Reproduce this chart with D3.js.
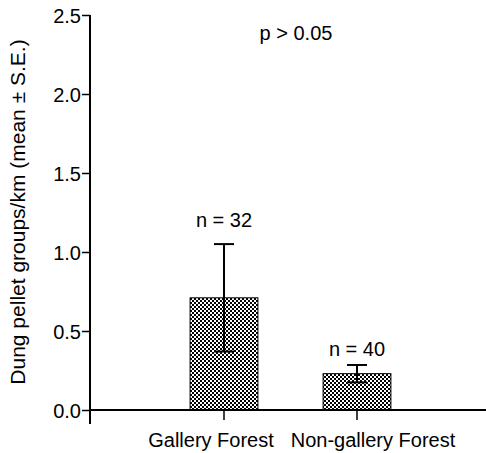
<!DOCTYPE html>
<html>
<head>
<meta charset="utf-8">
<script src="https://cdn.jsdelivr.net/npm/d3@7"></script>
<style>
  html, body { margin: 0; padding: 0; background: #fff; }
  svg { display: block; }
  text { font-family: "Liberation Sans", Arial, sans-serif; fill: #000; }
</style>
</head>
<body>
<svg id="chart" width="486" height="453"></svg>
<script>
// Dung pellet group density by habitat
const categories = ["Gallery Forest", "Non-gallery Forest"];
const means = [0.71, 0.23];
const stdErrors = [0.34, 0.055];
const sampleSizes = [32, 40];
const yTicks = [0, 0.5, 1.0, 1.5, 2.0, 2.5];
const yTitle = "Dung pellet groups/km (mean \u00b1 S.E.)";
const statNote = "p > 0.05";

const svg = d3.select("#chart");
const fontSize = 20;

// checkered fill for the bars
const defs = svg.append("defs");
const pat = defs.append("pattern")
  .attr("id", "checker")
  .attr("patternUnits", "userSpaceOnUse")
  .attr("width", 4).attr("height", 4);
pat.append("rect").attr("width", 4).attr("height", 4).attr("fill", "#fff");
pat.append("rect").attr("x", 0).attr("y", 0).attr("width", 2).attr("height", 2).attr("fill", "#000");
pat.append("rect").attr("x", 2).attr("y", 2).attr("width", 2).attr("height", 2).attr("fill", "#000");

const x = d3.scaleBand().domain(categories).range([157.5, 423.5]).padding(0);
const y = d3.scaleLinear().domain([0, 2.5]).range([410, 15]);
const barW = x.bandwidth() * 0.51;
const capW = 20;

// bars
svg.append("g").selectAll("rect")
  .data(categories)
  .join("rect")
  .attr("x", d => x(d) + x.bandwidth() / 2 - barW / 2)
  .attr("y", (d, i) => y(means[i]))
  .attr("width", barW)
  .attr("height", (d, i) => y(0) - y(means[i]))
  .attr("fill", "url(#checker)")
  .attr("stroke", "#000")
  .attr("stroke-width", 1);

// error bars (mean ± S.E.)
const eb = svg.append("g").attr("stroke", "#000").attr("stroke-width", 2);
categories.forEach((c, i) => {
  const cx = x(c) + x.bandwidth() / 2;
  const hi = y(means[i] + stdErrors[i]);
  const lo = y(means[i] - stdErrors[i]);
  eb.append("line").attr("x1", cx).attr("x2", cx).attr("y1", hi).attr("y2", lo);
  eb.append("line").attr("x1", cx - capW / 2).attr("x2", cx + capW / 2).attr("y1", hi).attr("y2", hi);
  eb.append("line").attr("x1", cx - capW / 2).attr("x2", cx + capW / 2).attr("y1", lo).attr("y2", lo);
});

// y axis
const yAxis = svg.append("g")
  .attr("transform", "translate(90,0)")
  .call(d3.axisLeft(y).tickValues(yTicks).tickFormat(d3.format(".1f")).tickSize(8).tickSizeOuter(0));
yAxis.select(".domain").remove();
yAxis.selectAll(".tick line").attr("stroke", "#000").attr("stroke-width", 1.5);
yAxis.selectAll(".tick text")
  .attr("x", -9)
  .attr("dy", "0.36em")
  .style("font-size", fontSize + "px")
  .style("font-family", "'Liberation Sans', Arial, sans-serif")
  .attr("fill", "#000");
svg.append("line")
  .attr("x1", 90).attr("x2", 90).attr("y1", y(2.5)).attr("y2", 424)
  .attr("stroke", "#000").attr("stroke-width", 2);

// x axis; the two labels sit slightly apart from their ticks
const labelShift = [-13, 16];
const xAxis = svg.append("g")
  .attr("transform", "translate(0,410)")
  .call(d3.axisBottom(x).tickSize(10).tickSizeOuter(0));
xAxis.select(".domain").remove();
xAxis.selectAll(".tick line").attr("stroke", "#000").attr("stroke-width", 1.5);
xAxis.selectAll(".tick text")
  .attr("y", 37).attr("dy", 0)
  .attr("dx", (d, i) => labelShift[i])
  .style("font-size", fontSize + "px")
  .style("font-family", "'Liberation Sans', Arial, sans-serif")
  .attr("fill", "#000");
svg.append("line")
  .attr("x1", 89).attr("x2", 486).attr("y1", 410).attr("y2", 410)
  .attr("stroke", "#000").attr("stroke-width", 2);

// sample sizes above the error bars
const nGap = [17, 9];
svg.append("g").selectAll("text")
  .data(categories)
  .join("text")
  .attr("x", d => x(d) + x.bandwidth() / 2)
  .attr("y", (d, i) => y(means[i] + stdErrors[i]) - nGap[i])
  .attr("text-anchor", "middle")
  .style("font-size", fontSize + "px")
  .text((d, i) => "n = " + sampleSizes[i]);

// significance note
svg.append("text")
  .attr("x", 296).attr("y", 40)
  .attr("text-anchor", "middle")
  .style("font-size", fontSize + "px")
  .text(statNote);

// y axis title
svg.append("text")
  .attr("transform", "translate(25,212) rotate(-90)")
  .attr("text-anchor", "middle")
  .style("font-size", "21px")
  .text(yTitle);
</script>
</body>
</html>
